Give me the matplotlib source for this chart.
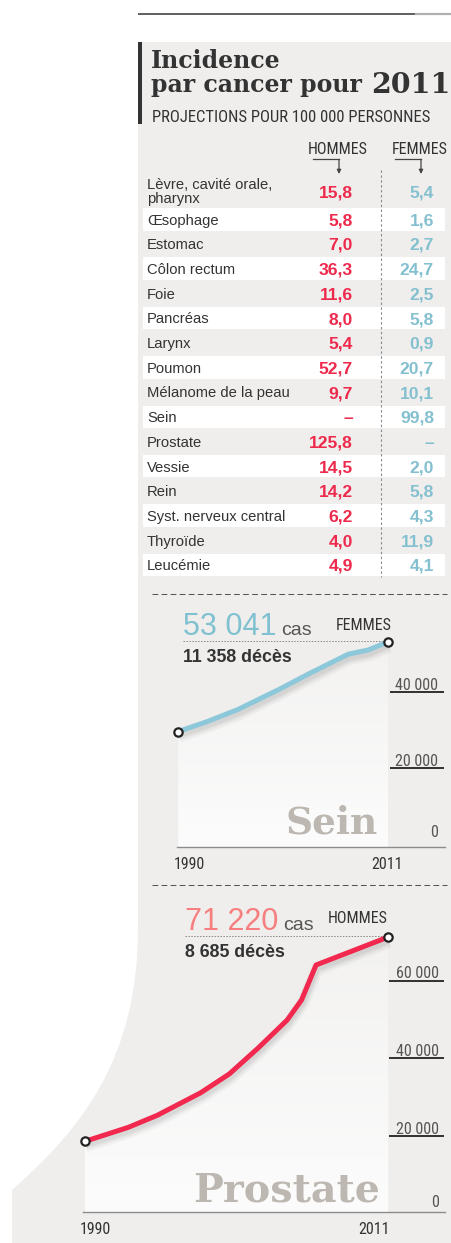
import numpy as np
import matplotlib
matplotlib.use("Agg")
import matplotlib.pyplot as plt
from matplotlib import font_manager as fm
from matplotlib.path import Path
from matplotlib.patches import PathPatch, Rectangle
import matplotlib.patheffects as pe
import matplotlib.transforms as mtransforms
from matplotlib.colors import LinearSegmentedColormap

# ---------------- data ----------------
categories = ["Lèvre, cavité orale,\npharynx", "Œsophage", "Estomac", "Côlon rectum",
              "Foie", "Pancréas", "Larynx", "Poumon", "Mélanome de la peau", "Sein",
              "Prostate", "Vessie", "Rein", "Syst. nerveux central", "Thyroïde", "Leucémie"]
hommes = [15.8, 5.8, 7.0, 36.3, 11.6, 8.0, 5.4, 52.7, 9.7, None, 125.8, 14.5, 14.2, 6.2, 4.0, 4.9]
femmes = [5.4, 1.6, 2.7, 24.7, 2.5, 5.8, 0.9, 20.7, 10.1, 99.8, None, 2.0, 5.8, 4.3, 11.9, 4.1]
col_headers = ["HOMMES", "FEMMES"]

sein_years = [1990, 1993, 1996, 2000, 2003, 2005, 2007, 2009, 2011]
sein_cases = [29600, 32300, 35400, 40500, 44600, 47200, 49800, 50900, 53041]
sein_deaths = 11358
sein_ticks = [0, 20000, 40000]

prostate_years = [1990, 1993, 1995, 1998, 2000, 2002, 2004, 2005, 2006, 2011]
prostate_cases = [18500, 22100, 25200, 31000, 35900, 42600, 49800, 55000, 64000, 71220]
prostate_deaths = 8685
prostate_ticks = [0, 20000, 40000, 60000]

# ---------------- fonts ----------------
_names = {f.name for f in fm.fontManager.ttflist}
def pick(*cands):
    for c in cands:
        if c in _names:
            return c
    return "DejaVu Sans"
SANS = pick("Liberation Sans", "Arial", "DejaVu Sans")
NARROW = pick("Liberation Sans Narrow", "Roboto Condensed", "Open Sans Condensed")
if NARROW == "DejaVu Sans":
    NARROW, NF = SANS, 1.0
else:
    NF = 1.15
SERIF = pick("DejaVu Serif", "Liberation Serif")

# ---------------- colours ----------------
PANEL = "#efeeed"
DARK = "#333333"
RED = "#ee2a4c"
BLUE = "#84c0cf"
LINE_BLUE = "#8cc8da"
LINE_RED = "#f2294f"
SALMON = "#f67f7f"
GREYTXT = "#bcb7b1"

W, H = 452, 1243
fig = plt.figure(figsize=(W / 100, H / 100), dpi=100)
fig.patch.set_facecolor("white")
bg = fig.add_axes([0, 0, 1, 1])
bg.set_xlim(0, W)
bg.set_ylim(H, 0)
bg.axis("off")

# panel shape with curved lower-left edge
verts = [(138, 42), (452, 42), (452, 1243), (12, 1243), (12, 1190),
         (80, 1130), (138, 1060), (138, 928), (138, 42), (138, 42)]
codes = [Path.MOVETO, Path.LINETO, Path.LINETO, Path.LINETO, Path.LINETO,
         Path.CURVE4, Path.CURVE4, Path.CURVE4, Path.LINETO, Path.CLOSEPOLY]
bg.add_patch(PathPatch(Path(verts, codes), facecolor=PANEL, edgecolor="none", zorder=0))

# top rule
bg.plot([138, 415], [13.5, 13.5], color=DARK, lw=1.1, solid_capstyle="butt")
bg.plot([415, 452], [13.5, 13.5], color="#b0b0b0", lw=1.6, solid_capstyle="butt")

# title block
bg.add_patch(Rectangle((138, 42), 4.5, 81.5, color=DARK, lw=0))
bg.text(151, 68.3, "Incidence", family=SERIF, weight="bold", fontsize=17, color=DARK, va="baseline")
bg.text(151, 91.7, "par cancer pour", family=SERIF, weight="bold", fontsize=17, color=DARK, va="baseline")
bg.text(371, 93.3, "2011", family=SERIF, weight="bold", fontsize=20.5, color=DARK, va="baseline")
bg.text(152, 121.7, "PROJECTIONS POUR 100 000 PERSONNES", family=NARROW, fontsize=10.4 * NF,
        color=DARK, va="baseline")

# ---------------- table ----------------
hx, fx = 338, 420
for cx, lab in zip([hx, fx], col_headers):
    bg.text(cx, 154, lab, family=NARROW, fontsize=10 * NF, color=DARK, ha="center", va="baseline")
    bg.plot([cx - 25, cx + 1], [159.3, 159.3], color="#444", lw=0.9)
    bg.annotate("", xy=(cx + 1, 174), xytext=(cx + 1, 159.3),
                arrowprops=dict(arrowstyle="-|>", lw=0.9, color="#444", mutation_scale=6,
                                shrinkA=0, shrinkB=0))

row0 = 219.3
step = 24.69
def row_y(i):
    return row0 + step * (i - 1) if i > 0 else 191.0

def fmt(v):
    return "–" if v is None else f"{v:.1f}".replace(".", ",")

for i, (cat, h, f) in enumerate(zip(categories, hommes, femmes)):
    yc = row_y(i)
    if i % 2 == 1:
        bg.add_patch(Rectangle((143, yc - 11.2), 302, 22.4, color="white", lw=0, zorder=0.5))
    lines = cat.split("\n")
    base = yc + 5.3 - (len(lines) - 1) * 13.7 / 2
    for k, ln in enumerate(lines):
        bg.text(147, base + k * 13.7, ln, family=SANS, fontsize=10.6, color=DARK, va="baseline", zorder=2)
    bg.text(353, yc + 6, fmt(h), family=SANS, weight="bold", fontsize=12.6, color=RED,
            ha="right", va="baseline", zorder=2)
    bg.text(434, yc + 6, fmt(f), family=SANS, weight="bold", fontsize=12.6, color=BLUE,
            ha="right", va="baseline", zorder=2)

bg.plot([381, 381], [170, 577], color="#8a8a8a", lw=0.8, ls=(0, (2.2, 2.2)), zorder=2)

# dashed separators
for ys in (594, 885):
    bg.plot([152, 447], [ys, ys], color="#555", lw=0.75, ls=(0, (5.5, 3.2)))

# ---------------- line charts ----------------
grad_cmap = LinearSegmentedColormap.from_list("g", ["#fcfcfc", "#f3f2f1"])
shadow = [pe.SimpleLineShadow(offset=(0.5, -3.5), shadow_color="k", alpha=0.035, linewidth=9),
          pe.SimpleLineShadow(offset=(0.5, -3.0), shadow_color="k", alpha=0.045, linewidth=6.5),
          pe.SimpleLineShadow(offset=(0.5, -2.5), shadow_color="k", alpha=0.05, linewidth=4.5),
          pe.Normal()]

def chart(years, cases, ticks, lcolor, px_left, px_right, px_top, px_bottom,
          yr0_px, px_per_yr, zero_px, px_per_unit, name, name_xy, name_size,
          zero_lab_px, end_lab_dx, tick_x0):
    ax = fig.add_axes([px_left / W, 1 - px_bottom / H, (px_right - px_left) / W,
                       (px_bottom - px_top) / H])
    xd = lambda px: years[0] + (px - yr0_px) / px_per_yr
    xl = (xd(px_left), xd(px_right))
    yl = ((zero_px - px_bottom) / px_per_unit, (zero_px - px_top) / px_per_unit)
    ax.patch.set_alpha(0)
    for s in ("top", "left", "right"):
        ax.spines[s].set_visible(False)
    ax.spines["bottom"].set_color("#8c8c8c")
    ax.spines["bottom"].set_linewidth(1.0)
    ax.set_xticks([])
    ax.set_yticks([])

    poly = ax.fill_between(years, cases, yl[0], color="none", lw=0)
    grad = np.linspace(0, 1, 256).reshape(-1, 1)
    im = ax.imshow(grad, extent=[years[0], years[-1], yl[0], max(cases)], origin="lower",
                   aspect="auto", cmap=grad_cmap, zorder=1, interpolation="bilinear")
    im.set_clip_path(poly.get_paths()[0], transform=ax.transData)

    ax.text(name_xy[0], name_xy[1], name, transform=bg.transData, family=SERIF, weight="bold",
            fontsize=name_size, color=GREYTXT, ha="right", va="baseline", zorder=2)

    ax.plot(years, cases, color=lcolor, lw=3.6, solid_capstyle="butt", solid_joinstyle="round",
            zorder=3, clip_on=False, path_effects=shadow)
    ax.plot([years[0], years[-1]], [cases[0], cases[-1]], "o", ms=6, mfc="white", mec="#222",
            mew=1.6, zorder=4, clip_on=False)

    lab_tr = mtransforms.offset_copy(ax.transData, fig=fig, y=2, units="dots")
    for t in ticks:
        lab = f"{t:,}".replace(",", " ")
        if t == 0:
            ax.text(xd(438.5), t, lab, transform=mtransforms.offset_copy(ax.transData, fig=fig,
                    y=zero_px - zero_lab_px, units="dots"),
                    family=NARROW, fontsize=10 * NF, color="#555", ha="right", va="baseline")
        else:
            ax.hlines(t, xd(tick_x0), xd(444), color="#222", lw=1.3)
            ax.text(xd(438.5), t, lab, transform=lab_tr, family=NARROW, fontsize=10 * NF,
                    color="#555", ha="right", va="baseline")

    base_y = yl[0]
    ax.text(years[0], base_y, str(years[0]),
            transform=mtransforms.offset_copy(ax.transData, fig=fig, x=-5, y=-22, units="dots"),
            family=NARROW, fontsize=10 * NF, color=DARK, ha="left", va="baseline")
    ax.text(years[-1], base_y, str(years[-1]),
            transform=mtransforms.offset_copy(ax.transData, fig=fig, x=end_lab_dx, y=-22, units="dots"),
            family=NARROW, fontsize=10 * NF, color=DARK, ha="right", va="baseline")
    ax.set_xlim(*xl)
    ax.set_ylim(*yl)
    return ax

chart(sein_years, sein_cases, sein_ticks, LINE_BLUE, 177, 445, 600, 847,
      178.3, 10.0, 844.9, 76.6 / 20000, "Sein", (378, 833), 27, 836.7, 14, 390)
chart(prostate_years, prostate_cases, prostate_ticks, LINE_RED, 83, 445, 890, 1212,
      85.0, 14.44, 1213.0, 77.5 / 20000, "Prostate", (380, 1202), 28.5, 1206.7, 2, 389)

# annotations
def annot(x, ybase, value, vcolor, gender, gender_right, deaths, dotted_y, deaths_base, gender_base):
    bg.text(x, ybase, f"{value:,}".replace(",", " "), family=SANS, fontsize=22,
            color=vcolor, va="baseline")
    bg.text(x + 98, ybase, "cas", family=SANS, fontsize=14, color="#555", va="baseline")
    bg.text(gender_right, gender_base, gender, family=NARROW, fontsize=10 * NF, color=DARK,
            ha="right", va="baseline")
    bg.plot([x, 387], [dotted_y, dotted_y], color="#888", lw=0.7, ls=(0, (1.5, 1.5)))
    bg.text(x, deaths_base, f"{deaths:,} décès".replace(",", " "), family=SANS, weight="bold",
            fontsize=12.8, color=DARK, va="baseline")

annot(183, 635, sein_cases[-1], "#80c1d1", "FEMMES", 392, sein_deaths, 641, 662, 630)
annot(185, 930, prostate_cases[-1], SALMON, "HOMMES", 388, prostate_deaths, 935.5, 957, 923)

fig.savefig("out.png", dpi=100, facecolor="white")
